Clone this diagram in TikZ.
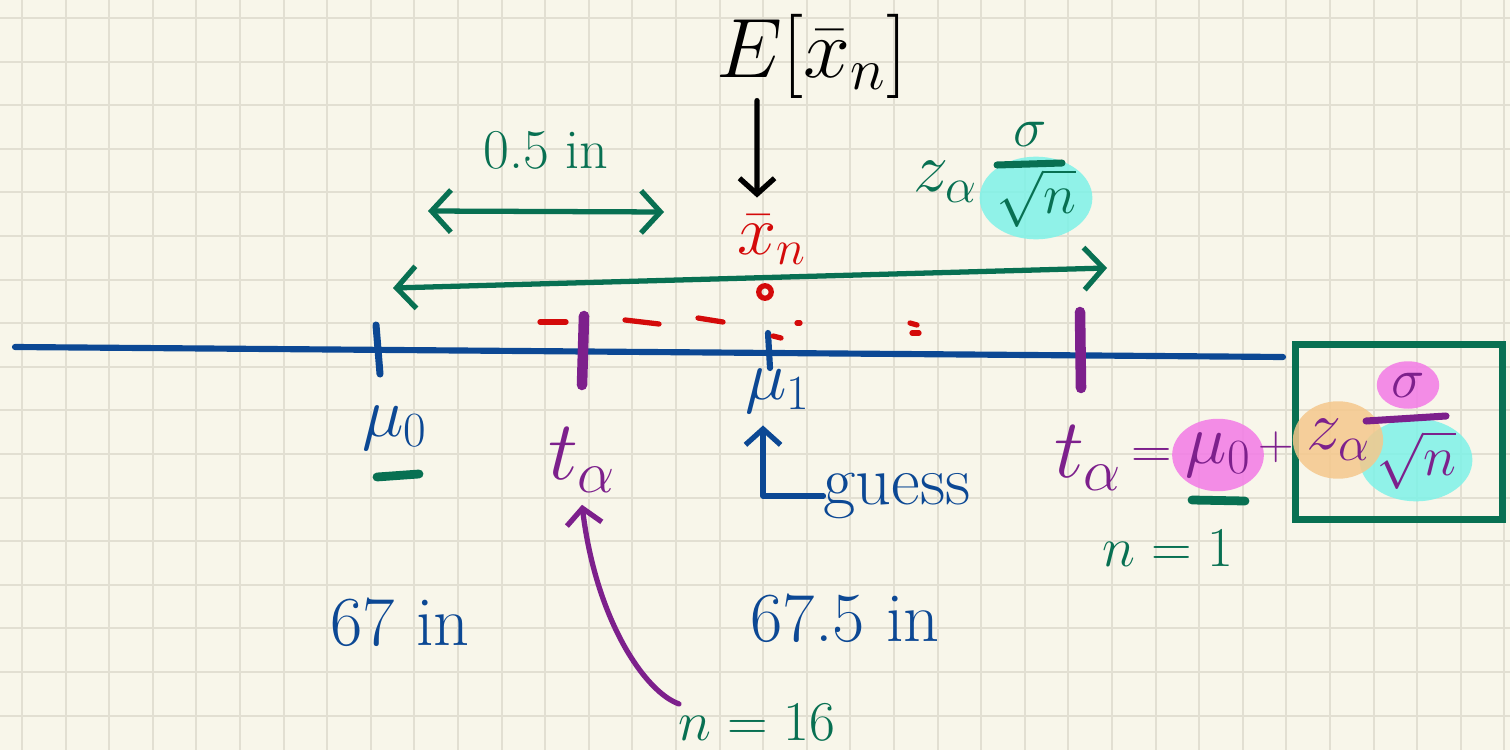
\RequirePackage{fix-cm}
\documentclass[tikz,border=0pt]{standalone}
\usepackage{amsmath}
\usepackage{xcolor}
\usepackage{tikz}
\usetikzlibrary{arrows.meta, positioning, shapes.geometric, calc}

\definecolor{paper}{RGB}{248,246,234}
\definecolor{gridline}{RGB}{226,223,210}
\definecolor{penblue}{RGB}{12,72,148}
\definecolor{penpurple}{RGB}{125,32,140}
\definecolor{pengreen}{RGB}{8,112,82}
\definecolor{penred}{RGB}{212,10,10}
\definecolor{hlpink}{RGB}{243,122,230}
\definecolor{hlcyan}{RGB}{126,242,232}
\definecolor{hlorange}{RGB}{245,200,140}

\begin{document}
\begin{tikzpicture}[
    x=0.02cm, y=-0.02cm,
    every node/.style={inner sep=0pt, outer sep=0pt},
    hand/.style={font=\fontsize{40}{44}\selectfont},
    handbig/.style={font=\fontsize{48}{52}\selectfont},
    handsmall/.style={font=\fontsize{32}{36}\selectfont},
    handtiny/.style={font=\fontsize{28}{30}\selectfont},
    pen/.style={line width=3pt, line cap=round, line join=round},
    arrow/.style={pen, -{Straight Barb[length=9pt, width=20pt]}},
    darrow/.style={pen, {Straight Barb[length=11pt, width=24pt]}-{Straight Barb[length=11pt, width=24pt]}},
    hl/.style={ellipse, fill opacity=0.85, text opacity=1},
]

%% --- Paper and grid ---
\fill[paper] (0,0) rectangle (1510,750);
\useasboundingbox (0,0) rectangle (1510,750);
\foreach \i in {0,...,34}
    \draw[gridline, line width=1.1pt] (22+43.6*\i,0) -- (22+43.6*\i,750);
\foreach \j in {0,...,16}
    \draw[gridline, line width=1.1pt] (0,18+43.6*\j) -- (1510,18+43.6*\j);

%% --- Number line and ticks ---
\coordinate (axisL) at (15,347);
\coordinate (axisR) at (1283,357);
\draw[pen, penblue, line width=3.5pt] (axisL) -- (axisR);
\draw[pen, penblue, line width=4pt] (376,325) -- (380,374);
\draw[pen, penpurple, line width=6pt] (584,316) -- (582,385);
\draw[pen, penblue, line width=3.5pt] (768,333) -- (770,368);
\draw[pen, penpurple, line width=6pt] (1080,312) -- (1081,388);

%% --- Red sketch of the sample mean ---
\foreach \xa/\ya/\xb/\yb in {540/322/566/322, 625/320/659/324, 698/318/723/322,
        797/323/800/323, 910/323/917/325, 912/333/919/333, 773/336/781/338}
    \draw[pen, penred] (\xa,\ya) -- (\xb,\yb);
\node[hand, text=penred] (xbar) at (772,240) {$\bar{x}_n$};
\node[circle, draw=penred, line width=3pt, minimum size=0.25cm] (xmark) at (765,292) {};

%% --- Expectation ---
\node[handbig] (expect) at (812,56) {$E[\bar{x}_n]$};
\draw[arrow] ([xshift=-1.1cm, yshift=-0.05cm]expect.south) -- ([xshift=-0.3cm, yshift=0.35cm]xbar.north);

%% --- Green widths ---
\coordinate (halfL) at (428,211);
\coordinate (halfR) at (664,212);
\draw[darrow, pengreen] (halfL) -- node[handsmall, text=pengreen, above=0.85cm] (halflabel) {0.5 in} (halfR);

\coordinate (widthL) at (393,288);
\coordinate (widthR) at (1107,268);
\draw[darrow, pengreen] (widthL) -- (widthR);

\node[hand, text=pengreen] (zgreen) at (945,182) {$z_\alpha$};
\node[hl, fill=hlcyan, minimum width=1.4cm, minimum height=1.2cm, handsmall, text=pengreen] (rootgreen) at (1036,198) {$\sqrt{n}$};
\node[handsmall, text=pengreen] (siggreen) at (1030,134) {$\sigma$};
\draw[pen, pengreen, line width=4pt] (997,165) -- (1062,163);

%% --- Labels under the line ---
\node[hand, text=penblue] (muzero) at (395,428) {$\mu_0$};
\draw[pen, pengreen, line width=5pt] (377,477) -- (419,474);

\node[handbig, text=penpurple] (taleft) at (582,460) {$t_\alpha$};
\node[handsmall, text=pengreen] (nsixteen) at (757,722) {$n=16$};
\draw[arrow, penpurple] (nsixteen.north west) .. controls (645,692) and (596,620) .. ([yshift=-0.25cm]taleft.south);

\node[hand, text=penblue] (muone) at (778,391) {$\mu_1$};
\node[hand, text=penblue] (guess) at (897,496) {guess};
\draw[arrow, penblue] (guess.west) -| ([xshift=-0.3cm, yshift=-0.25cm]muone.south);

\node[hand, text=penblue] (heightzero) at (400,622) {67 in};
\node[hand, text=penblue] (heightone) at (845,618) {67.5 in};

%% --- Critical value ---
\node[handbig, text=penpurple] (taright) at (1088,458) {$t_\alpha$};
\node[handsmall, text=penpurple, right=0.2cm of taright] (equals) {$=$};
\node[hl, fill=hlpink, minimum size=1.45cm, hand, text=penpurple] (muzerob) at (1218,455) {$\mu_0$};
\node[handtiny, text=penpurple] (plus) at (1276,447) {$+$};
\draw[pen, pengreen, line width=5pt] (1192,500) -- (1245,501);
\node[handsmall, text=pengreen] (none) at (1168,548) {$n=1$};

\node[draw=pengreen, line width=4pt, minimum width=4.14cm, minimum height=3.5cm] (resultbox) at (1399,432) {};
\node[hl, fill=hlcyan, minimum width=1.75cm, minimum height=1.15cm, handsmall, text=penpurple] (rootpurple) at (1416,460) {$\sqrt{n}$};
\node[hl, fill=hlorange, minimum width=1.4cm, minimum height=1.55cm, hand, text=penpurple] (zpurple) at (1338,440) {$z_\alpha$};
\node[hl, fill=hlpink, minimum width=1.25cm, minimum height=0.95cm, handsmall, text=penpurple] (sigpurple) at (1408,385) {$\sigma$};
\draw[pen, penpurple, line width=4pt] (1366,421) -- (1446,416);

\end{tikzpicture}
\end{document}
